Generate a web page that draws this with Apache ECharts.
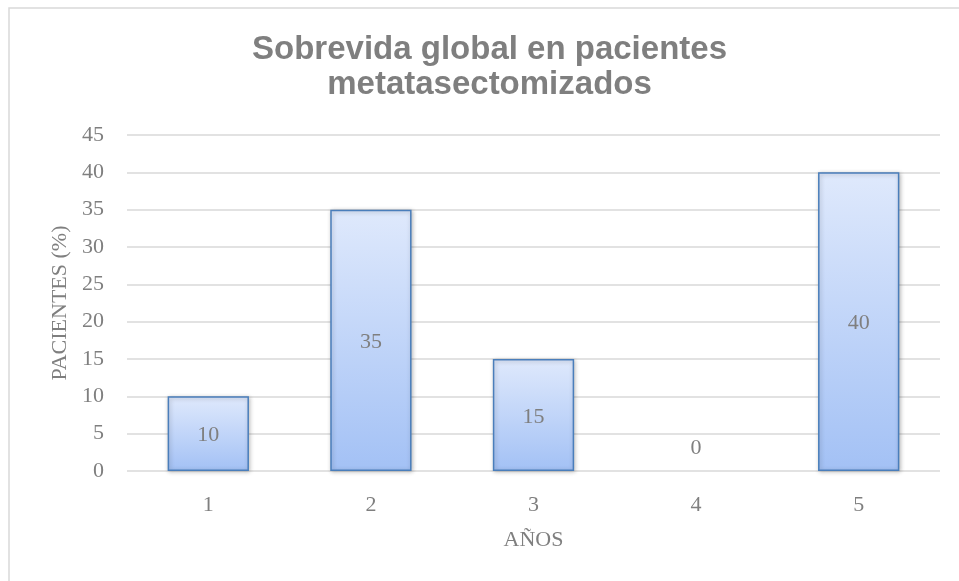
<!DOCTYPE html>
<html>
<head>
<meta charset="utf-8">
<script src="https://cdn.jsdelivr.net/npm/echarts@6/dist/echarts.min.js"></script>
<style>
html,body{margin:0;padding:0;background:#fff;overflow:hidden;width:959px;height:581px;}
#chart{position:absolute;left:0;top:0;width:979px;height:581px;}
</style>
</head>
<body>
<div id="chart"></div>
<script>
var titleText = 'Sobrevida global en pacientes\nmetatasectomizados';
var categories = ['1', '2', '3', '4', '5'];
var values = [10, 35, 15, 0, 40];
var yTicks = { min: 0, max: 45, interval: 5 };
var xName = 'AÑOS';
var yName = 'PACIENTES (%)';

var serif = '"Liberation Serif", "DejaVu Serif", serif';
var gray = '#7f7f7f';

var chart = echarts.init(document.getElementById('chart'), null, { renderer: 'canvas' });
chart.setOption({
  backgroundColor: '#ffffff',
  animation: false,
  graphic: [{
    type: 'rect',
    shape: { x: 9, y: 8, width: 980, height: 600 },
    style: { fill: 'none', stroke: '#d9d9d9', lineWidth: 1.5 },
    silent: true
  }],
  title: {
    text: titleText,
    left: 'center',
    top: 27,
    textStyle: {
      fontFamily: '"Liberation Sans", Arial, sans-serif',
      fontWeight: 'bold',
      fontSize: 33,
      lineHeight: 35,
      color: gray
    }
  },
  grid: { left: 127, top: 135, width: 813, height: 336, containLabel: false },
  xAxis: {
    type: 'category',
    data: categories,
    name: xName,
    nameLocation: 'middle',
    nameGap: 58,
    nameTextStyle: { fontFamily: serif, fontSize: 22, color: gray },
    axisLine: { show: false },
    axisTick: { show: false },
    axisLabel: { fontFamily: serif, fontSize: 22, color: gray, margin: 23 }
  },
  yAxis: {
    type: 'value',
    min: yTicks.min,
    max: yTicks.max,
    interval: yTicks.interval,
    name: yName,
    nameLocation: 'middle',
    nameGap: 56,
    nameTextStyle: { fontFamily: serif, fontSize: 22, color: gray },
    axisLine: { show: false },
    axisTick: { show: false },
    axisLabel: { fontFamily: serif, fontSize: 22, color: gray, margin: 23 },
    splitLine: { lineStyle: { color: '#d9d9d9', width: 1.5 } }
  },
  series: [{
    type: 'bar',
    barWidth: '50%',
    data: values.map(function (v) {
      return v === 0
        ? { value: v, label: { position: 'top', distance: 14 }, itemStyle: { borderWidth: 0, shadowBlur: 0, shadowColor: 'transparent' } }
        : v;
    }),
    itemStyle: {
      color: new echarts.graphic.LinearGradient(0, 0, 0, 1, [
        { offset: 0, color: '#dfe9fc' },
        { offset: 1, color: '#a3c1f5' }
      ]),
      borderColor: '#4a7ebb',
      borderWidth: 1.5,
      shadowColor: 'rgba(0,0,0,0.25)',
      shadowBlur: 4,
      shadowOffsetX: 1,
      shadowOffsetY: 1
    },
    label: {
      show: true,
      position: 'inside',
      offset: [0, 2],
      fontFamily: serif,
      fontSize: 22,
      color: gray
    }
  }]
});
</script>
</body>
</html>
